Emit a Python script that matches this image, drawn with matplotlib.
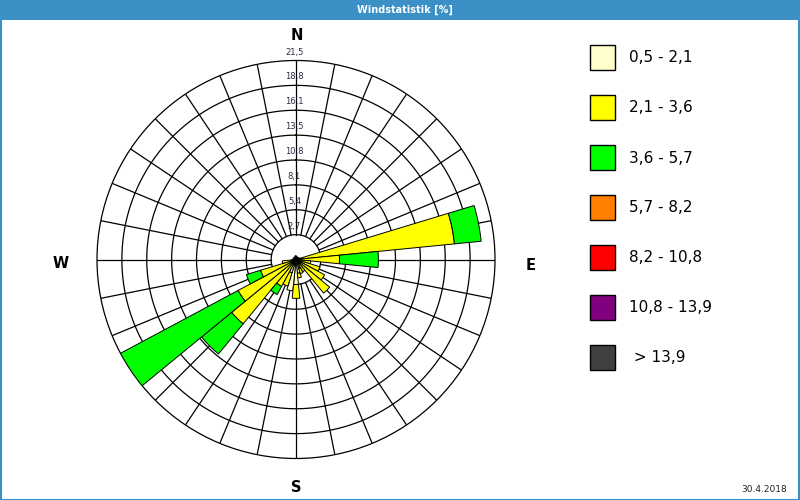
import numpy as np
import matplotlib
matplotlib.use("Agg")
import matplotlib.pyplot as plt
import matplotlib.transforms as mtransforms
from matplotlib.patches import Rectangle

# ---------------- data ----------------
title = "Windstatistik [%]"
date_text = "30.4.2018"
# 32 directions, clockwise from North, 11.25 deg steps
directions_deg = [i * 11.25 for i in range(32)]
class_labels = ["0,5 - 2,1", "2,1 - 3,6", "3,6 - 5,7", "5,7 - 8,2",
                "8,2 - 10,8", "10,8 - 13,9", " > 13,9"]
class_colors = ["#FFFFCC", "#FFFF00", "#00FF00", "#FF8000",
                "#FF0000", "#800080", "#404040"]
# segment heights (%) per speed class, per direction
v_05_21 = [0.4, 0.3, 0.3, 0.3, 0.3, 0.3, 0.4, 0.5,
           0.5, 0.4, 0.5, 0.5, 0.6, 0.5, 1.0, 1.5,
           2.7, 3.4, 1.5, 0.5, 0.5, 0.5, 0.5, 0.5,
           0.4, 0.3, 0.3, 0.3, 0.3, 0.3, 0.3, 0.4]
v_21_36 = [0, 0, 0, 0, 0, 0, 0, 16.7,
           4.2, 1.2, 2.2, 3.0, 4.1, 1.0, 0.6, 0.5,
           1.5, 0, 1.5, 2.8, 8.5, 6.6, 3.5, 1.0,
           0, 0, 0, 0, 0, 0, 0, 0]
v_36_57 = [0, 0, 0, 0, 0, 0, 0, 2.9,
           4.2, 0, 0, 0, 0, 0, 0, 0,
           0, 0, 0, 1.0, 4.2, 14.4, 1.6, 0,
           0, 0, 0, 0, 0, 0, 0, 0]
v_57_82 = [0] * 32
v_82_108 = [0] * 32
v_108_139 = [0] * 32
v_gt_139 = [0] * 32
ring_values = [2.6875 * k for k in range(1, 9)]
ring_labels = ["2,7", "5,4", "8,1", "10,8", "13,5", "16,1", "18,8", "21,5"]
r_max = 21.5

series = [v_05_21, v_21_36, v_36_57, v_57_82, v_82_108, v_108_139, v_gt_139]

# ---------------- figure ----------------
W, H = 800, 500
fig = plt.figure(figsize=(W / 100, H / 100), dpi=100)
fig.patch.set_facecolor("white")

# title band
fig.patches.append(Rectangle((0, 1 - 20 / H), 1, 20 / H, transform=fig.transFigure,
                             facecolor="#3b91c5", edgecolor="none", zorder=0))
fig.patches.append(Rectangle((0.5 / W, 0.5 / H), 1 - 1.5 / W, 1 - 1 / H, transform=fig.transFigure,
                             facecolor="none", edgecolor="#3b91c5", lw=1.5, zorder=0))
fig.text(405 / W, 1 - 10 / H, title, color="white", fontsize=7, fontweight="bold",
         ha="center", va="center")

cx, cy, R = 296, 259.5, 199
ax = fig.add_axes([(cx - R) / W, (H - cy - R) / H, 2 * R / W, 2 * R / H], projection="polar")
ax.set_theta_zero_location("N")
ax.set_theta_direction(-1)
ax.set_ylim(0, r_max)
ax.grid(False)
ax.set_xticks([])
ax.set_yticks([])
ax.spines["polar"].set_linewidth(0.9)
ax.spines["polar"].set_color("black")

# grid rings
tt = np.linspace(0, 2 * np.pi, 721)
for rv in ring_values[:-1]:
    ax.plot(tt, np.full_like(tt, rv), color="black", lw=0.9, zorder=1)
# spokes
for d in directions_deg:
    th = np.deg2rad(d)
    ax.plot([th, th], [ring_values[0], r_max], color="black", lw=0.9, zorder=1)

# stacked bars
theta = np.deg2rad(directions_deg)
width = np.deg2rad(11.25)
bottom = np.zeros(32)
for vals, col in zip(series, class_colors):
    vals = np.asarray(vals, dtype=float)
    mask = vals > 0
    if mask.any():
        ax.bar(theta[mask], vals[mask], width=width, bottom=bottom[mask],
               color=col, edgecolor="black", linewidth=0.7, zorder=3, align="center")
    bottom += vals

# ring labels
off = mtransforms.offset_copy(ax.transData, fig=fig, x=-1.5, y=8.5, units="dots")
for rv, lab in zip(ring_values, ring_labels):
    ax.text(0, rv, lab, transform=off, ha="center", va="center", fontsize=6,
            color="#2a2a45", zorder=5)

# compass labels
for lab, (x, y) in {"N": (296.5, 36), "E": (531, 265), "W": (61, 264), "S": (296, 488)}.items():
    fig.text(x / W, 1 - y / H, lab, fontsize=10.5, fontweight="bold", ha="center",
             va="center", color="black")

# legend
for k, (lab, col) in enumerate(zip(class_labels, class_colors)):
    top = 45 + 50 * k
    fig.patches.append(Rectangle((590 / W, 1 - (top + 25) / H), 25 / W, 25 / H,
                                 transform=fig.transFigure, facecolor=col,
                                 edgecolor="black", lw=1.0))
    fig.text(629 / W, 1 - (top + 13) / H, lab, fontsize=11, ha="left", va="center",
             color="black")

fig.text(764 / W, 1 - 489 / H, date_text, fontsize=6.5, ha="center", va="center",
         color="#222222")

fig.savefig("out.png", dpi=100)
